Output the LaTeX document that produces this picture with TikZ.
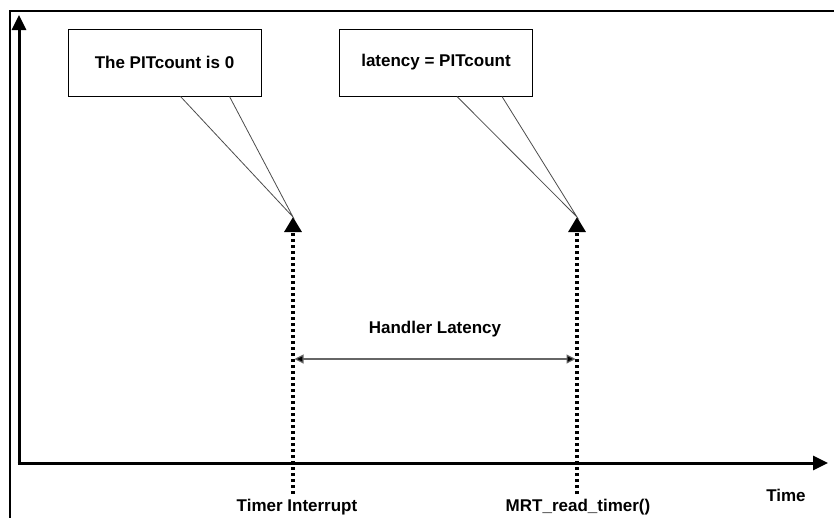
\documentclass[tikz,border=0pt]{standalone}
\usepackage{fontspec}
\setmainfont{Liberation Sans}
\usetikzlibrary{arrows.meta, positioning}

\tikzset{
  callout/.style={rectangle, draw, line width=1pt, minimum width=193pt, minimum height=67pt},
  pointer/.style={draw=black!70, line width=0.8pt},
  axis/.style={line width=3pt, -{Triangle[length=15pt, width=14pt]}},
  event/.style={line width=3.2pt, dash pattern=on 3pt off 3pt, -{Triangle[length=15pt, width=17pt]}},
  span/.style={draw=black!60, line width=1.1pt, {Triangle[length=9pt, width=9pt, fill=black]}-{Triangle[length=9pt, width=9pt, fill=black]}},
  frame/.style={line width=2.2pt}
}

\begin{document}
\begin{tikzpicture}[x=1pt, y=-1pt, every node/.style={font=\bfseries\fontsize{17}{20}\selectfont}]
    \useasboundingbox (0,0) rectangle (834,517);
    \draw[frame] (10,540) |- (850,11);

    % axes
    \coordinate (Origin) at (19,463);
    \coordinate (TopY) at (19,15);
    \coordinate (EndX) at (828,463);
    \draw[axis] ([yshift=-1.5pt] Origin) -- (TopY);
    \draw[axis] ([xshift=-1.5pt] Origin) -- (EndX);
    \node (Time) at (786,495) {Time};

    % events on the time line
    \coordinate (TickA) at (293,217);
    \coordinate (TickB) at (577,217);
    \coordinate (FootA) at (293,494);
    \coordinate (FootB) at (577,494);
    \draw[event] (FootA) -- (TickA);
    \draw[event] (FootB) -- (TickB);
    \node (Interrupt) at (297,507) {Timer Interrupt};
    \node (ReadTimer) at (578,507) {MRT\_read\_timer()};

    % callouts
    \node[callout] (NoteA) at (164.5,62.5) {The PITcount is 0};
    \node[callout] (NoteB) at (436,62.5) {latency = PITcount};
    \draw[pointer] ([xshift=113pt] NoteA.south west) -- (TickA) -- ([xshift=162pt] NoteA.south west);
    \draw[pointer] ([xshift=118pt] NoteB.south west) -- (TickB) -- ([xshift=163pt] NoteB.south west);

    % latency span
    \coordinate (SpanA) at (294.5,359);
    \coordinate (SpanB) at (575.5,359);
    \draw[span] (SpanA) -- (SpanB);
    \node (Latency) at (435,329) {Handler Latency};
\end{tikzpicture}
\end{document}
